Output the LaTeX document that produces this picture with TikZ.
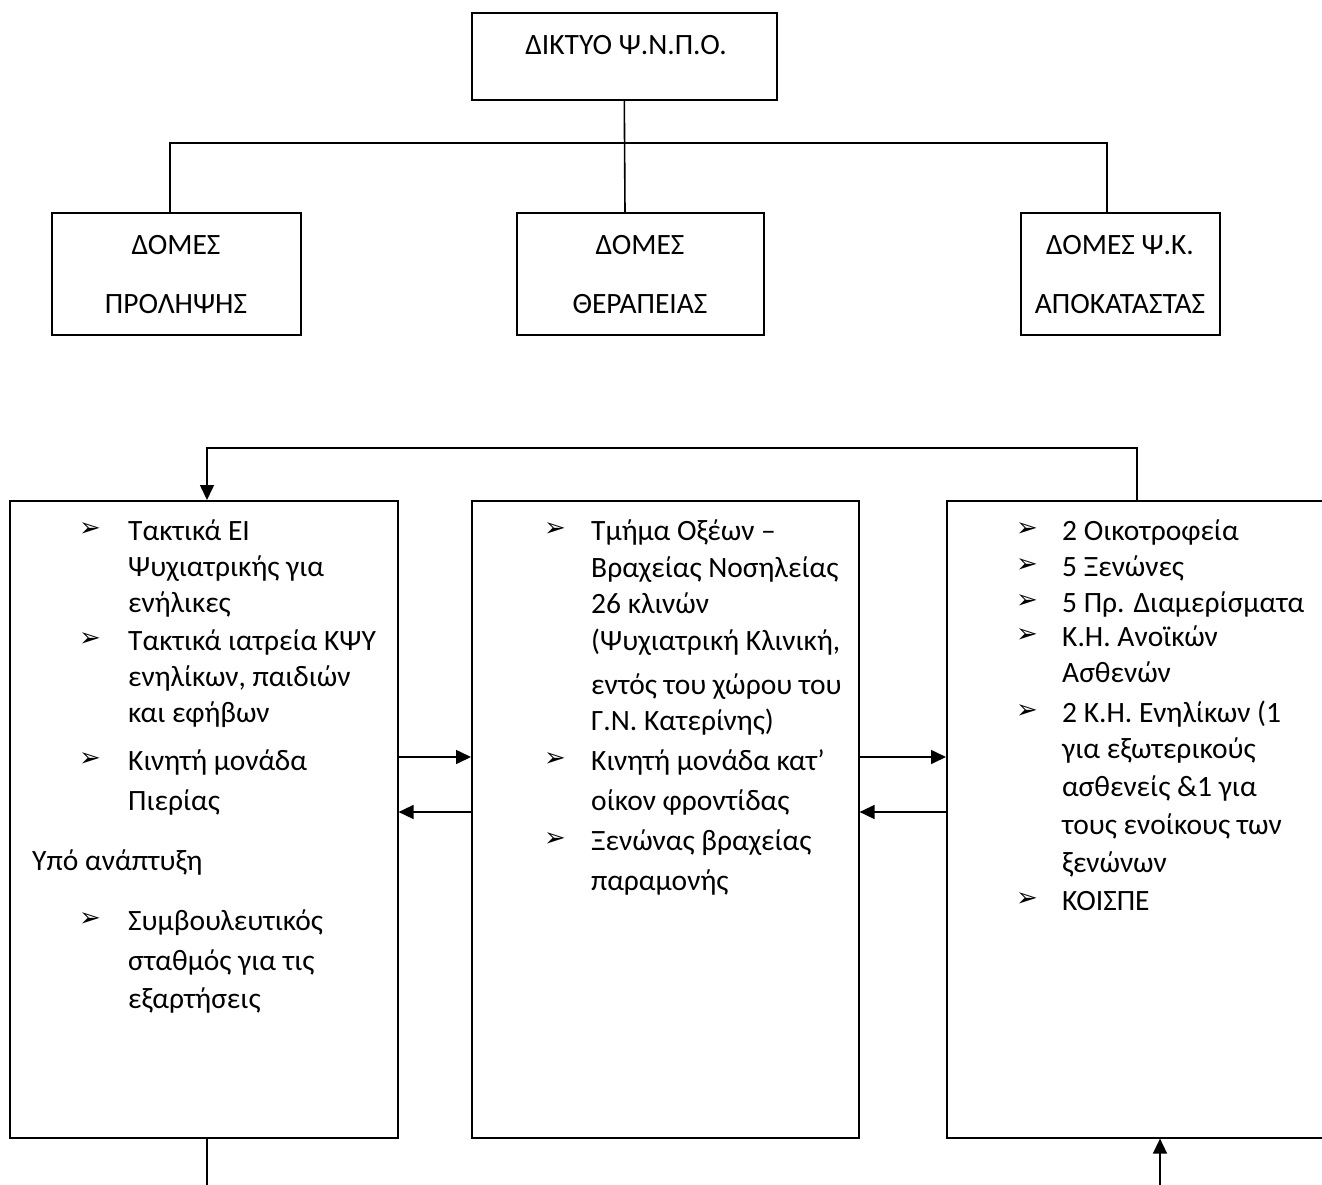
\documentclass[tikz,border=0pt]{standalone}
\usepackage{fontspec}
\setmainfont{Carlito}
\newfontfamily\bulfont{DejaVu Sans}
\usetikzlibrary{arrows.meta}
\begin{document}
\begin{tikzpicture}[x=1pt,y=-1pt,
  box/.style={draw, line width=1.6pt, inner sep=0pt, anchor=north west},
  ln/.style={line width=1.6pt},
  arr/.style={line width=1.6pt, -{Triangle[length=15pt,width=14pt]}},
  txt/.style={anchor=base west, inner sep=0pt, font=\fontsize{29.5}{35}\selectfont},
  ctxt/.style={anchor=base, inner sep=0pt, font=\fontsize{29.5}{35}\selectfont},
  bul/.style={anchor=base west, inner sep=0pt, font=\bulfont\fontsize{26}{26}\selectfont}]
\useasboundingbox (0,0) rectangle (1322,1185);
% top tree
\node[box, minimum width=305pt, minimum height=87pt] (top) at (471,12) {};
\node[ctxt] (ttop) at (626,55) {ΔΙΚΤΥΟ Ψ.Ν.Π.Ο.};
\node[box, minimum width=249pt, minimum height=122pt] (prol) at (51,212) {};
\node[ctxt] (tp1) at (176,254) {ΔΟΜΕΣ};
\node[ctxt] (tp2) at (176,313) {ΠΡΟΛΗΨΗΣ};
\node[box, minimum width=247pt, minimum height=122pt] (ther) at (516,212) {};
\node[ctxt] (tt1) at (640,254) {ΔΟΜΕΣ};
\node[ctxt] (tt2) at (640,313) {ΘΕΡΑΠΕΙΑΣ};
\node[box, minimum width=199pt, minimum height=122pt] (apok) at (1020,212) {};
\node[ctxt] (ta1) at (1120,254) {ΔΟΜΕΣ Ψ.Κ.};
\node[ctxt] (ta2) at (1120,313) {ΑΠΟΚΑΤΑΣΤΑΣ};
\coordinate (hl) at (170,143);
\coordinate (hr) at (1107,143);
\coordinate (hm) at (625,212);
\draw[ln] (top.south) -- (hm);
\draw[ln] (prol.north -| hl) -- (hl) -- (hr) -- (hr |- apok.north);
% bottom boxes
\node[box, minimum width=388pt, minimum height=637pt] (lb) at (9,500) {};
\node[box, minimum width=387pt, minimum height=637pt] (mb) at (471,500) {};
\node[box, minimum width=400pt, minimum height=637pt] (rb) at (946,500) {};
\coordinate (ll) at (207,448);
\coordinate (lr) at (1137,448);
\draw[arr] (rb.north -| lr) -- (lr) -- (ll) -- (ll |- lb.north);
\coordinate (a1) at (0,757);
\coordinate (a2) at (0,812);
\draw[arr] (lb.east |- a1) -- (mb.west |- a1);
\draw[arr] (mb.west |- a2) -- (lb.east |- a2);
\draw[arr] (mb.east |- a1) -- (rb.west |- a1);
\draw[arr] (rb.west |- a2) -- (mb.east |- a2);
\coordinate (bl) at (207,1185);
\coordinate (br) at (1160,1185);
\draw[ln] (lb.south -| bl) -- (bl);
\draw[arr] (br) -- (br |- rb.south);
% left box text
\node[bul] (lb1) at (79,536) {➢};
\node[txt] (l1) at (128,540) {Τακτικά ΕΙ};
\node[txt] (l2) at (128,576) {Ψυχιατρικής για};
\node[txt] (l3) at (128,612) {ενήλικες};
\node[bul] (lb2) at (79,646) {➢};
\node[txt] (l4) at (128,650) {Τακτικά ιατρεία ΚΨΥ};
\node[txt] (l5) at (128,686) {ενηλίκων, παιδιών};
\node[txt] (l6) at (128,722) {και εφήβων};
\node[bul] (lb3) at (79,766) {➢};
\node[txt] (l7) at (128,770) {Κινητή μονάδα};
\node[txt] (l8) at (128,810) {Πιερίας};
\node[txt] (l9) at (32,870) {Υπό ανάπτυξη};
\node[bul] (lb4) at (79,926) {➢};
\node[txt] (l10) at (128,930) {Συμβουλευτικός};
\node[txt] (l11) at (128,970) {σταθμός για τις};
\node[txt] (l12) at (128,1008) {εξαρτήσεις};
% middle box text
\node[bul] (mb1) at (544,536) {➢};
\node[txt] (m1) at (591,540) {Τμήμα Οξέων –};
\node[txt] (m2) at (591,577) {Βραχείας Νοσηλείας};
\node[txt] (m3) at (591,613) {26 κλινών};
\node[txt] (m4) at (591,650) {(Ψυχιατρική Κλινική,};
\node[txt] (m5) at (591,694) {εντός του χώρου του};
\node[txt] (m6) at (591,730) {Γ.Ν. Κατερίνης)};
\node[bul] (mb2) at (544,766) {➢};
\node[txt] (m7) at (591,770) {Κινητή μονάδα κατ’};
\node[txt] (m8) at (591,810) {οίκον φροντίδας};
\node[bul] (mb3) at (544,846) {➢};
\node[txt] (m9) at (591,850) {Ξενώνας βραχείας};
\node[txt] (m10) at (591,890) {παραμονής};
% right box text
\node[bul] (rb1) at (1016,536) {➢};
\node[txt] (r1) at (1062,540) {2 Οικοτροφεία};
\node[bul] (rb2) at (1016,572) {➢};
\node[txt] (r2) at (1062,576) {5 Ξενώνες};
\node[bul] (rb3) at (1016,608) {➢};
\node[txt] (r3) at (1062,612) {5 Πρ. Διαμερίσματα};
\node[bul] (rb4) at (1016,642) {➢};
\node[txt] (r4) at (1062,646) {Κ.Η. Ανοϊκών};
\node[txt] (r5) at (1062,682) {Ασθενών};
\node[bul] (rb5) at (1016,718) {➢};
\node[txt] (r6) at (1062,722) {2 Κ.Η. Ενηλίκων (1};
\node[txt] (r7) at (1062,758) {για εξωτερικούς};
\node[txt] (r8) at (1062,796) {ασθενείς \&1 για};
\node[txt] (r9) at (1062,834) {τους ενοίκους των};
\node[txt] (r10) at (1062,872) {ξενώνων};
\node[bul] (rb6) at (1016,906) {➢};
\node[txt] (r11) at (1062,910) {ΚΟΙΣΠΕ};
\end{tikzpicture}
\end{document}
